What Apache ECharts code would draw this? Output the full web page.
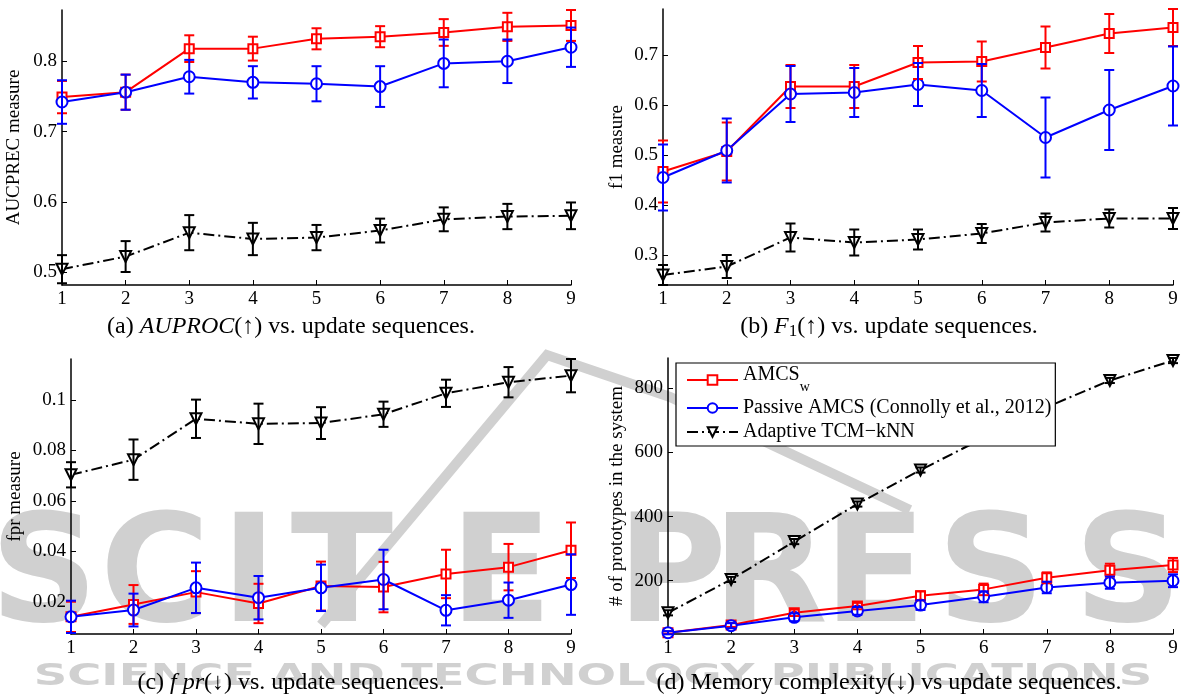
<!DOCTYPE html>
<html>
<head>
<meta charset="utf-8">
<script src="https://cdn.jsdelivr.net/npm/echarts@6/dist/echarts.min.js"></script>
<style>
  html, body { margin: 0; padding: 0; background: #fff; }
  #chart { width: 1187px; height: 698px; }
</style>
</head>
<body>
<div id="chart"></div>
<script>
const steps = [1, 2, 3, 4, 5, 6, 7, 8, 9];
const seriesNames = ['AMCSw', 'Passive AMCS (Connolly et al., 2012)', 'Adaptive TCM\u2212kNN'];

// (a) AUPROC
const aucTicks = [0.5, 0.6, 0.7, 0.8];
const aucRed = [0.749, 0.756, 0.818, 0.818, 0.832, 0.835, 0.841, 0.849, 0.851];
const aucRedErr = [0.023, 0.025, 0.019, 0.017, 0.015, 0.015, 0.019, 0.020, 0.022];
const aucBlue = [0.742, 0.756, 0.778, 0.770, 0.768, 0.764, 0.797, 0.800, 0.820];
const aucBlueErr = [0.031, 0.025, 0.024, 0.023, 0.025, 0.029, 0.034, 0.031, 0.028];
const aucBlack = [0.504, 0.522, 0.556, 0.547, 0.549, 0.559, 0.575, 0.579, 0.580];
const aucBlackErr = [0.020, 0.022, 0.025, 0.023, 0.018, 0.017, 0.017, 0.018, 0.019];

// (b) F1
const f1Ticks = [0.3, 0.4, 0.5, 0.6, 0.7];
const f1Red = [0.467, 0.507, 0.637, 0.637, 0.685, 0.687, 0.715, 0.743, 0.755];
const f1RedErr = [0.062, 0.058, 0.043, 0.043, 0.033, 0.040, 0.042, 0.039, 0.037];
const f1Blue = [0.455, 0.509, 0.622, 0.625, 0.641, 0.629, 0.535, 0.590, 0.638];
const f1BlueErr = [0.066, 0.064, 0.056, 0.049, 0.043, 0.053, 0.080, 0.080, 0.079];
const f1Black = [0.260, 0.277, 0.335, 0.325, 0.331, 0.343, 0.365, 0.373, 0.373];
const f1BlackErr = [0.020, 0.023, 0.028, 0.026, 0.020, 0.019, 0.018, 0.018, 0.021];

// (c) fpr
const fprTicks = [0.02, 0.04, 0.06, 0.08, 0.1];
const fprRed = [0.0140, 0.0189, 0.0238, 0.0193, 0.0262, 0.0258, 0.0310, 0.0337, 0.0404];
const fprRedErr = [0.0060, 0.0077, 0.0083, 0.0078, 0.0097, 0.0100, 0.0096, 0.0092, 0.0110];
const fprBlue = [0.0140, 0.0167, 0.0255, 0.0216, 0.0255, 0.0288, 0.0166, 0.0206, 0.0268];
const fprBlueErr = [0.0064, 0.0065, 0.0100, 0.0086, 0.0092, 0.0118, 0.0060, 0.0070, 0.0120];
const fprBlack = [0.0703, 0.0763, 0.0925, 0.0905, 0.0908, 0.0943, 0.1026, 0.1070, 0.1096];
const fprBlackErr = [0.0050, 0.0080, 0.0076, 0.0080, 0.0063, 0.0050, 0.0054, 0.0060, 0.0066];

// (d) memory
const memTicks = [200, 400, 600, 800];
const memRed = [38, 62, 100, 121, 153, 173, 209, 233, 249];
const memRedErr = [4, 6, 10, 10, 14, 18, 17, 20, 22];
const memBlue = [38, 60, 86, 106, 124, 150, 179, 194, 200];
const memBlueErr = [5, 8, 12, 12, 15, 17, 18, 19, 20];
const memBlack = [100, 204, 322, 439, 545, 645, 741, 824, 886];
const memBlackErr = [8, 8, 8, 8, 8, 8, 8, 8, 8];

// watermark letters (decoration only)
const wmLetters = ['S', 'C', 'I', 'T', 'E', 'P', 'R', 'E', 'S', 'S'];
const wmCenters = [44, 155, 249, 342, 501, 672, 770, 875, 991, 1128];

const serif = 'Liberation Serif';
const RED = '#ff0000', BLUE = '#0000ff', BLACK = '#000000';
const WM = '#d0d0d0';

const chart = echarts.init(document.getElementById('chart'));

function lineSeries(name, idx, values, color, symbol, size, dashed) {
  return {
    type: 'line', name: name, xAxisIndex: idx, yAxisIndex: idx,
    data: steps.map((s, i) => [s, values[i]]),
    symbol: symbol, symbolSize: size, symbolRotate: symbol === 'emptyTriangle' ? 180 : 0,
    itemStyle: { color: color, borderWidth: 1.5 },
    lineStyle: { color: color, width: 2, type: dashed ? [11, 4, 2, 4] : 'solid' },
    z: 3
  };
}

function errorSeries(name, idx, values, errs, color) {
  return {
    type: 'custom', name: name + ' error', xAxisIndex: idx, yAxisIndex: idx,
    data: steps.map((s, i) => [s, values[i] - errs[i], values[i] + errs[i]]),
    encode: { x: 0, y: [1, 2] },
    renderItem: function (params, api) {
      const lo = api.coord([api.value(0), api.value(1)]);
      const hi = api.coord([api.value(0), api.value(2)]);
      const cap = 5;
      const style = { stroke: color, lineWidth: 2 };
      return {
        type: 'group',
        children: [
          { type: 'line', shape: { x1: lo[0], y1: lo[1], x2: hi[0], y2: hi[1] }, style: style },
          { type: 'line', shape: { x1: lo[0] - cap, y1: lo[1], x2: lo[0] + cap, y2: lo[1] }, style: style },
          { type: 'line', shape: { x1: hi[0] - cap, y1: hi[1], x2: hi[0] + cap, y2: hi[1] }, style: style }
        ]
      };
    },
    z: 4
  };
}

function panelSeries(idx, red, redErr, blue, blueErr, black, blackErr) {
  return [
    lineSeries(seriesNames[2], idx, black, BLACK, 'emptyTriangle', 11, true),
    lineSeries(seriesNames[0], idx, red, RED, 'emptyRect', 9, false),
    lineSeries(seriesNames[1], idx, blue, BLUE, 'emptyCircle', 11, false),
    errorSeries('black' + idx, idx, black, blackErr, BLACK),
    errorSeries('red' + idx, idx, red, redErr, RED),
    errorSeries('blue' + idx, idx, blue, blueErr, BLUE)
  ];
}

const grids = [
  { left: 62, top: 10, width: 509, height: 275 },
  { left: 663, top: 9, width: 510, height: 276 },
  { left: 71, top: 359, width: 500, height: 275 },
  { left: 668, top: 358, width: 505, height: 276 }
];

function xAxis(idx) {
  return {
    type: 'value', gridIndex: idx, min: 1, max: 9, interval: 1,
    axisLine: { lineStyle: { color: '#000', width: 1.5 } },
    axisTick: { inside: true, length: 5, lineStyle: { color: '#000' } },
    axisLabel: { color: '#000', fontFamily: serif, fontSize: 19, margin: 5 },
    splitLine: { show: false }
  };
}

function yAxis(idx, min, max, ticks, name, gap, fmt) {
  return {
    type: 'value', gridIndex: idx, min: min, max: max,
    name: name, nameLocation: 'middle', nameGap: gap,
    nameTextStyle: { color: '#000', fontFamily: serif, fontSize: 19 },
    axisLine: { show: true, lineStyle: { color: '#000', width: 1.5 } },
    axisTick: { show: true, inside: true, length: 5, customValues: ticks, lineStyle: { color: '#000' } },
    axisLabel: { color: '#000', fontFamily: serif, fontSize: 19, margin: 5, customValues: ticks, formatter: fmt },
    splitLine: { show: false }
  };
}

const dec = v => String(parseFloat(v.toFixed(3)));

const capRich = {
  t: { fontFamily: serif, fontSize: 24, fill: '#000' },
  i: { fontFamily: serif, fontSize: 24, fontStyle: 'italic', fill: '#000' },
  s: { fontFamily: serif, fontSize: 17, fill: '#000', padding: [10, 0, 0, 0] }
};

function caption(x, y, text) {
  return {
    type: 'text', x: x, y: y, z: 20,
    style: {
      text: text, x: 0, y: 0, align: 'center', verticalAlign: 'middle',
      fill: '#000', font: '24px "Liberation Serif"', rich: capRich
    }
  };
}

const watermark = wmLetters.map((ch, i) => ({
  type: 'text', x: wmCenters[i], y: 582, z: -10, silent: true,
  style: { text: ch, x: 0, y: 0, align: 'center', verticalAlign: 'middle',
    font: 'bold 150px "DejaVu Sans"', fill: WM }
}));

chart.setOption({
  animation: false,
  backgroundColor: '#fff',
  grid: grids,
  xAxis: [xAxis(0), xAxis(1), xAxis(2), xAxis(3)],
  yAxis: [
    yAxis(0, 0.4815, 0.873, aucTicks, 'AUCPREC measure', 38, dec),
    yAxis(1, 0.24, 0.792, f1Ticks, 'f1 measure', 36, dec),
    yAxis(2, 0.0072, 0.1162, fprTicks, 'fpr measure', 46, dec),
    yAxis(3, 34, 894, memTicks, '# of prototypes in the system', 41, v => String(v))
  ],
  legend: {
    data: seriesNames,
    left: 676, top: 363, orient: 'vertical',
    backgroundColor: '#fff', borderColor: '#000', borderWidth: 1.2,
    padding: [2, 4, 4, 10], itemGap: 4, itemWidth: 51, itemHeight: 12,
    textStyle: {
      color: '#000', fontFamily: serif, fontSize: 20,
      rich: {
        m: { fontFamily: serif, fontSize: 20, color: '#000', padding: [0, 0, 10, 0] },
        w: { fontFamily: serif, fontSize: 14, color: '#000', padding: [14, 0, 0, 0] }
      }
    },
    formatter: n => n === 'AMCSw' ? '{m|AMCS}{w|w}' : n,
    z: 10
  },
  graphic: watermark.concat([
    { type: 'text', x: 593, y: 677, z: -10, silent: true, scaleX: 1.55,
      style: { text: 'SCIENCE AND TECHNOLOGY PUBLICATIONS', x: 0, y: 0, align: 'center', verticalAlign: 'middle',
        font: 'bold 30px "DejaVu Sans"', fill: WM } },
    { type: 'polyline', z: -10, silent: true,
      shape: { points: [[321, 625], [547, 355], [670, 397], [910, 510]] },
      style: { stroke: WM, lineWidth: 10, fill: null } },
    caption(291, 327, '{t|(a) }{i|AUPROC}{t|(\u2191) vs. update sequences.}'),
    caption(889, 327, '{t|(b) }{i|F}{s|1}{t|(\u2191) vs. update sequences.}'),
    caption(291, 683, '{t|(c) }{i|f pr}{t|(\u2193) vs. update sequences.}'),
    caption(889, 683, '{t|(d) Memory complexity(\u2193) vs update sequences.}')
  ]),
  series: [].concat(
    panelSeries(0, aucRed, aucRedErr, aucBlue, aucBlueErr, aucBlack, aucBlackErr),
    panelSeries(1, f1Red, f1RedErr, f1Blue, f1BlueErr, f1Black, f1BlackErr),
    panelSeries(2, fprRed, fprRedErr, fprBlue, fprBlueErr, fprBlack, fprBlackErr),
    panelSeries(3, memRed, memRedErr, memBlue, memBlueErr, memBlack, memBlackErr)
  )
});
</script>
</body>
</html>
